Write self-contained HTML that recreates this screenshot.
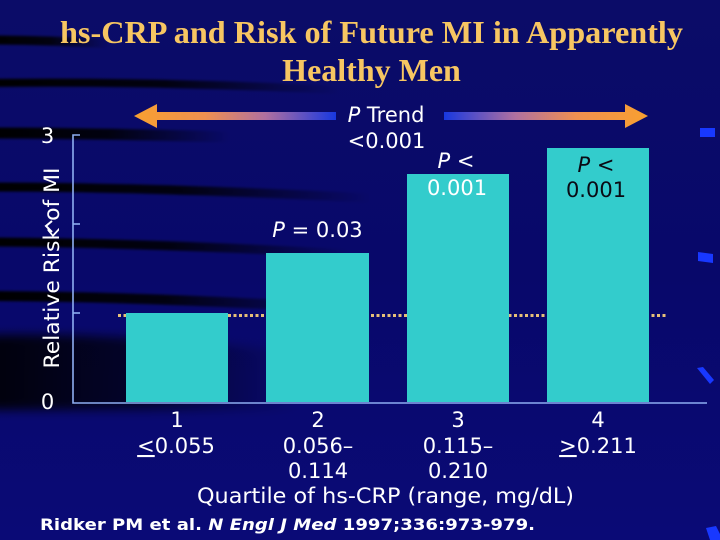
<!DOCTYPE html>
<html><head><meta charset="utf-8"><style>
html,body{margin:0;padding:0;background:#0a0a6c;}
svg{display:block;}
</style></head><body>
<svg width="720" height="540" viewBox="0 0 720 540" xmlns="http://www.w3.org/2000/svg">
<defs>
  <linearGradient id="bg" x1="0" y1="0" x2="0" y2="1">
    <stop offset="0" stop-color="#0b0c68"/>
    <stop offset="0.5" stop-color="#08086a"/>
    <stop offset="1" stop-color="#0a0a76"/>
  </linearGradient>
  <linearGradient id="fadeL" x1="0" y1="0" x2="1" y2="0">
    <stop offset="0" stop-color="#000" stop-opacity="1"/>
    <stop offset="0.5" stop-color="#000" stop-opacity="0.85"/>
    <stop offset="1" stop-color="#000" stop-opacity="0"/>
  </linearGradient>
  <linearGradient id="shadeH" x1="0" y1="0" x2="1" y2="0">
    <stop offset="0" stop-color="#000" stop-opacity="0.9"/>
    <stop offset="0.5" stop-color="#000" stop-opacity="0.6"/>
    <stop offset="1" stop-color="#000" stop-opacity="0"/>
  </linearGradient>
  <filter id="blur" x="-10%" y="-50%" width="120%" height="200%"><feGaussianBlur stdDeviation="1.2"/></filter>
  <filter id="blur2" x="-20%" y="-50%" width="140%" height="200%"><feGaussianBlur stdDeviation="5"/></filter>
  <linearGradient id="arrL" gradientUnits="userSpaceOnUse" x1="134" y1="0" x2="336" y2="0">
    <stop offset="0" stop-color="#f8a030"/>
    <stop offset="0.35" stop-color="#f09050"/>
    <stop offset="0.65" stop-color="#b070a0"/>
    <stop offset="1" stop-color="#1838e0"/>
  </linearGradient>
  <linearGradient id="arrR" gradientUnits="userSpaceOnUse" x1="444" y1="0" x2="648" y2="0">
    <stop offset="0" stop-color="#1838e0"/>
    <stop offset="0.35" stop-color="#b070a0"/>
    <stop offset="0.65" stop-color="#f09050"/>
    <stop offset="1" stop-color="#f8a030"/>
  </linearGradient>
</defs>

<!-- background -->
<rect width="720" height="540" fill="url(#bg)"/>
<g filter="url(#blur)">
  <path d="M -10 40 Q 50 40 110 44" stroke="url(#fadeL)" stroke-width="9" fill="none"/>
  <path d="M -10 83 Q 150 81 340 90" stroke="url(#fadeL)" stroke-width="8" fill="none"/>
  <path d="M -10 133 Q 80 133 230 137" stroke="url(#fadeL)" stroke-width="11" fill="none"/>
  <path d="M -10 187 Q 150 187 370 198" stroke="url(#fadeL)" stroke-width="9" fill="none"/>
  <path d="M -10 242 Q 150 243 350 254" stroke="url(#fadeL)" stroke-width="9" fill="none"/>
  <path d="M -10 296 Q 150 297 340 308" stroke="url(#fadeL)" stroke-width="10" fill="none"/>
</g>
<path d="M -10 335 Q 120 332 300 352 L 300 410 L -10 410 Z" fill="url(#shadeH)" filter="url(#blur2)"/>

<!-- right side blue marks -->
<g fill="#1838ff">
  <rect x="700" y="128" width="15" height="9"/>
  <polygon points="698,252 713,254 713,263 698,261"/>
  <polygon points="697,368 703,367 714,380 710,384"/>
  <polygon points="706,528 716,526 720,534 720,540 710,540"/>
</g>

<!-- title -->
<g font-family="'Liberation Serif', serif" font-weight="bold" font-size="32" fill="#f7c662" text-anchor="middle">
  <text x="371.5" y="43" textLength="623" lengthAdjust="spacingAndGlyphs">hs-CRP and Risk of Future MI in Apparently</text>
  <text x="371.5" y="81">Healthy Men</text>
</g>

<!-- arrows -->
<polygon points="134,116 157,104 157,112 336,112 336,120 157,120 157,128" fill="url(#arrL)"/>
<polygon points="648,116 625,104 625,112 444,112 444,120 625,120 625,128" fill="url(#arrR)"/>

<g font-family="'DejaVu Sans', 'Liberation Sans', sans-serif" font-size="21" fill="#ffffff" text-anchor="middle">
  <text x="386" y="122"><tspan font-style="italic">P</tspan> Trend</text>
  <text x="386.5" y="148">&lt;0.001</text>
</g>

<!-- dotted reference line -->
<line x1="118" y1="315.5" x2="668" y2="315.5" stroke="#e6c078" stroke-width="3" stroke-dasharray="3,2.5"/>

<!-- bars -->
<g fill="#33cccc">
  <rect x="126" y="313" width="102" height="89"/>
  <rect x="266" y="253" width="103" height="149"/>
  <rect x="407" y="174" width="102" height="228"/>
  <rect x="547" y="148" width="102" height="254"/>
</g>

<!-- axes -->
<g stroke="#8eaef2" stroke-width="1.6" fill="none">
  <polyline points="80,135 73,135 73,403 707,403"/>
  <line x1="73" y1="224" x2="80" y2="224"/>
  <line x1="73" y1="313" x2="80" y2="313"/>
</g>

<g font-family="'DejaVu Sans', 'Liberation Sans', sans-serif" font-size="21" fill="#ffffff" text-anchor="middle">
  <text x="47.5" y="143">3</text>
  <text x="47.5" y="409">0</text>
  <text transform="translate(59,268) rotate(-90)" textLength="201" lengthAdjust="spacingAndGlyphs">Relative Risk of MI</text>
  <path d="M 52 221 L 46 226 L 52 232" stroke="#ffffff" stroke-width="2" fill="none"/>

  <text x="317.5" y="237"><tspan font-style="italic">P</tspan> = 0.03</text>
  <text x="456" y="168"><tspan font-style="italic">P</tspan> &lt;</text>
  <text x="457" y="195">0.001</text>
  <g fill="#0a0a14">
    <text x="596" y="172"><tspan font-style="italic">P</tspan> &lt;</text>
    <text x="596" y="197">0.001</text>
  </g>

  <text x="177" y="427">1</text>
  <text x="318" y="427">2</text>
  <text x="458" y="427">3</text>
  <text x="598" y="427">4</text>
  <text x="176" y="453"><tspan text-decoration="underline">&lt;</tspan>0.055</text>
  <text x="318" y="453">0.056–</text>
  <text x="458" y="453">0.115–</text>
  <text x="598" y="453"><tspan text-decoration="underline">&gt;</tspan>0.211</text>
  <text x="318" y="478">0.114</text>
  <text x="458" y="478">0.210</text>
  <text x="385.5" y="503" textLength="377" lengthAdjust="spacingAndGlyphs">Quartile of hs-CRP (range, mg/dL)</text>
</g>

<text x="40" y="530" font-family="'DejaVu Sans', 'Liberation Sans', sans-serif" font-weight="bold" font-size="16" fill="#ffffff" textLength="495" lengthAdjust="spacingAndGlyphs">Ridker PM et al. <tspan font-style="italic">N Engl J Med</tspan> 1997;336:973-979.</text>
</svg>
</body></html>
